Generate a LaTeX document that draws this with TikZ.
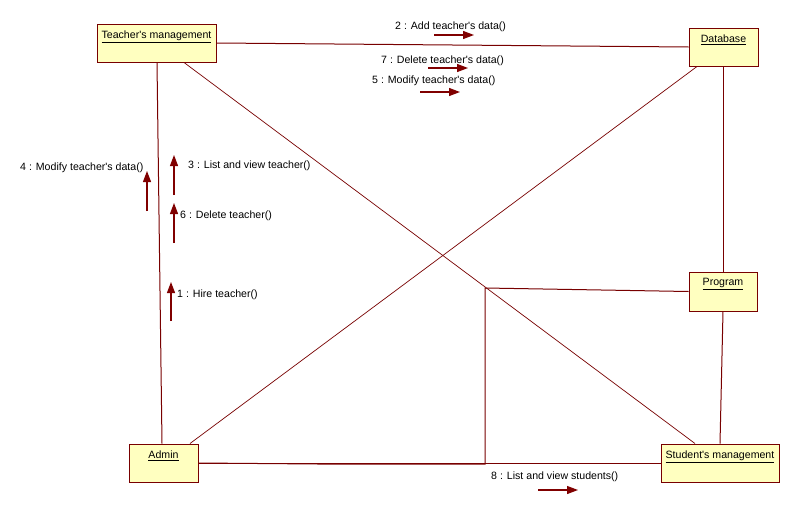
\documentclass[tikz,border=0pt]{standalone}
\usepackage{fontspec}
\setmainfont{Liberation Sans}
\usetikzlibrary{arrows.meta}
\definecolor{lnred}{RGB}{120,0,0}
\definecolor{boxfill}{RGB}{255,255,192}
\definecolor{arrred}{RGB}{128,0,0}
\newcommand{\ap}{\textquotesingle}
\tikzset{
  objbox/.style={draw=lnred, fill=boxfill, line width=1pt, rectangle, inner sep=0pt},
  boxlbl/.style={anchor=north, inner sep=0pt, yshift=-7pt, font=\fontsize{10.6}{12}\selectfont},
  link/.style={draw=lnred, line width=1pt},
  thinlink/.style={draw=lnred, line width=0.7pt},
  msg/.style={draw=arrred, line width=1.2pt, -{Triangle[length=11pt,width=8pt]}},
  msglbl/.style={anchor=west, inner sep=0pt, font=\fontsize{10.6}{12}\selectfont}
}
\begin{document}
\begin{tikzpicture}[x=1pt,y=-1pt]
\useasboundingbox (0,0) rectangle (800,514);
\fill[white] (0,0) rectangle (800,514);

% bend points
\coordinate (k1) at (342,464.2);
\coordinate (c1) at (485,464.2);
\coordinate (c2) at (485,288);

% objects
\node[objbox, minimum width=119pt, minimum height=38pt] (tm) at (156.5,43) {};
\node[objbox, minimum width=69pt, minimum height=38pt] (db) at (723.5,47) {};
\node[objbox, minimum width=69pt, minimum height=38pt] (ad) at (163.5,463) {};
\node[objbox, minimum width=68pt, minimum height=39pt] (pg) at (723,291.5) {};
\node[objbox, minimum width=118pt, minimum height=38pt] (sm) at (720,463) {};

% links
\draw[link] (tm.east) -- (db.west);
\draw[link] ([xshift=0.5pt]tm.south) -- ([xshift=-1.5pt]ad.north);
\draw[thinlink] ([xshift=27.5pt]tm.south) -- ([xshift=-25pt]sm.north);
\draw[thinlink] ([xshift=-26.5pt]db.south) -- ([xshift=26.5pt]ad.north);
\draw[link] ([xshift=-0.5pt]db.south) -- (pg.north);
\draw[link] (pg.south) -- (sm.north);
\draw[link] (ad.east) -- (sm.west);
\draw[link] (ad.east) -- (k1) -- (c1) -- (c2) -- (pg.west);

% redraw boxes on top of links
\node[objbox, minimum width=119pt, minimum height=38pt] (tm2) at (tm) {};
\node[boxlbl] (tmL) at (tm.north) {\underline{Teacher\ap s management}};
\node[objbox, minimum width=69pt, minimum height=38pt] (db2) at (db) {};
\node[boxlbl] (dbL) at (db.north) {\underline{Database}};
\node[objbox, minimum width=69pt, minimum height=38pt] (ad2) at (ad) {};
\node[boxlbl] (adL) at (ad.north) {\underline{Admin}};
\node[objbox, minimum width=68pt, minimum height=39pt] (pg2) at (pg) {};
\node[boxlbl] (pgL) at (pg.north) {\underline{Program}};
\node[objbox, minimum width=118pt, minimum height=38pt] (sm2) at (sm) {};
\node[boxlbl] (smL) at (sm.north) {\underline{Student\ap s management}};

% messages
\draw[msg] (434,35) -- (474,35);
\node[msglbl] (m2) at (395,27) {2 : Add teacher\ap s data()};
\draw[msg] (428,68) -- (468,68);
\node[msglbl] (m7) at (381,61) {7 : Delete teacher\ap s data()};
\draw[msg] (420,92) -- (460,92);
\node[msglbl] (m5) at (372,81) {5 : Modify teacher\ap s data()};

\draw[msg] (147,211) -- (147,171);
\node[msglbl] (m4) at (20,168) {4 : Modify teacher\ap s data()};
\draw[msg] (174,195) -- (174,155);
\node[msglbl] (m3) at (188,166) {3 : List and view teacher()};
\draw[msg] (174,243) -- (174,203);
\node[msglbl] (m6) at (180,216) {6 : Delete teacher()};
\draw[msg] (171,321) -- (171,282);
\node[msglbl] (m1) at (177,295) {1 : Hire teacher()};

\draw[msg] (538,490) -- (578,490);
\node[msglbl] (m8) at (491,477) {8 : List and view students()};
\end{tikzpicture}
\end{document}
